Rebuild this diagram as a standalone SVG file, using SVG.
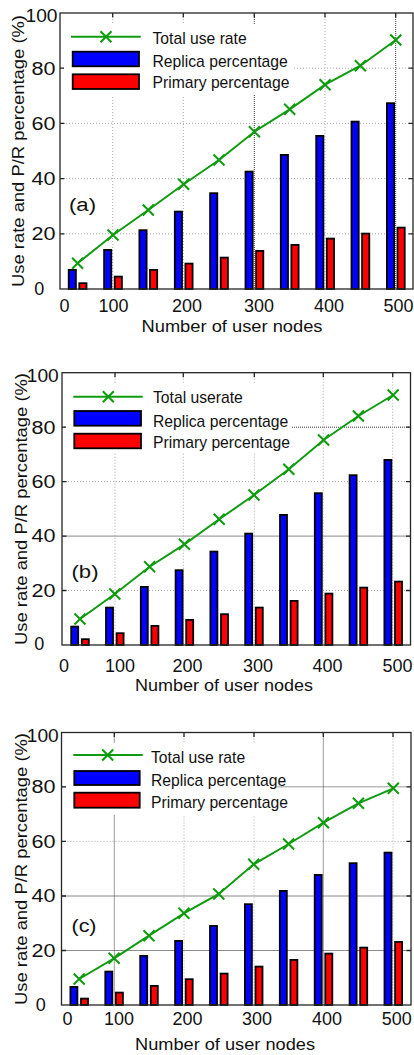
<svg xmlns="http://www.w3.org/2000/svg" xmlns:xlink="http://www.w3.org/1999/xlink" width="414" height="1055" viewBox="0 0 414 1055">
<style>
.ax{fill:none;stroke:#262626;stroke-width:1.3}
.gl{stroke:#a8a8a8;stroke-width:1;stroke-dasharray:1 2;fill:none}
.gd{stroke:#3a3a3a;stroke-width:1;stroke-dasharray:1 1;fill:none}
.gs{stroke:#8a8a8a;stroke-width:1;fill:none}
.bb{fill:#0000ff;stroke:#000;stroke-width:1.8}
.br{fill:#ff0000;stroke:#000;stroke-width:1.8}
.gr{fill:none;stroke:#0e9c0e;stroke-width:2}
.lg{fill:#fff;stroke:none}
.t{font-family:"Liberation Sans",Arial,sans-serif;fill:#111}
.tk{font-size:18px}
.yl{font-size:17px}
.xl{font-size:16px}
.le{font-size:15.7px}
.pl{font-size:18px}
</style>
<defs>
<path id="xm" class="gr" d="M-5.5,-5.5L5.5,5.5M-5.5,5.5L5.5,-5.5"/>
</defs>
<rect x="0" y="0" width="414" height="1055" fill="#fff"/>

<g id="panel-a">
<g id="grid-a">
<line class="gl" x1="60" y1="233.8" x2="413" y2="233.8"/>
<line class="gl" x1="60" y1="178.6" x2="413" y2="178.6"/>
<line class="gl" x1="60" y1="123.4" x2="413" y2="123.4"/>
<line class="gl" x1="60" y1="68.2" x2="413" y2="68.2"/>
<line class="gl" x1="112.7" y1="13" x2="112.7" y2="289"/>
<line class="gl" x1="183.3" y1="13" x2="183.3" y2="289"/>
<line class="gd" x1="254.3" y1="13" x2="254.3" y2="289"/>
<line class="gl" x1="325" y1="13" x2="325" y2="289"/>
<line class="gd" x1="395.7" y1="13" x2="395.7" y2="289"/>
</g>
<g id="bars-a">
<rect class="bb" x="68.7" y="269.9" width="7.2" height="19.1"/>
<rect class="bb" x="104.1" y="249.9" width="7.2" height="39.1"/>
<rect class="bb" x="139.4" y="230.2" width="7.2" height="58.8"/>
<rect class="bb" x="174.8" y="211.6" width="7.2" height="77.4"/>
<rect class="bb" x="210.1" y="193.2" width="7.2" height="95.8"/>
<rect class="bb" x="245.5" y="171.6" width="7.2" height="117.4"/>
<rect class="bb" x="280.8" y="154.9" width="7.2" height="134.1"/>
<rect class="bb" x="316.2" y="135.9" width="7.2" height="153.1"/>
<rect class="bb" x="351.5" y="121.6" width="7.2" height="167.4"/>
<rect class="bb" x="386.9" y="103.2" width="7.2" height="185.8"/>
<rect class="br" x="79.3" y="283.2" width="7.2" height="5.8"/>
<rect class="br" x="114.7" y="276.6" width="7.2" height="12.4"/>
<rect class="br" x="150" y="269.9" width="7.2" height="19.1"/>
<rect class="br" x="185.4" y="263.6" width="7.2" height="25.4"/>
<rect class="br" x="220.7" y="257.6" width="7.2" height="31.4"/>
<rect class="br" x="256.1" y="250.9" width="7.2" height="38.1"/>
<rect class="br" x="291.4" y="244.9" width="7.2" height="44.1"/>
<rect class="br" x="326.8" y="238.6" width="7.2" height="50.4"/>
<rect class="br" x="362.1" y="233.6" width="7.2" height="55.4"/>
<rect class="br" x="397.5" y="227.6" width="7.2" height="61.4"/>
</g>
<g id="line-a">
<polyline class="gr" points="77.6,263.3 113,235 148.3,210 183.7,184.3 219,160 254.4,131.7 289.7,109.3 325.1,84.7 360.4,65.7 395.8,40"/>
<use href="#xm" x="77.6" y="263.3"/><use href="#xm" x="113" y="235"/><use href="#xm" x="148.3" y="210"/><use href="#xm" x="183.7" y="184.3"/><use href="#xm" x="219" y="160"/><use href="#xm" x="254.4" y="131.7"/><use href="#xm" x="289.7" y="109.3"/><use href="#xm" x="325.1" y="84.7"/><use href="#xm" x="360.4" y="65.7"/><use href="#xm" x="395.8" y="40"/>
</g>
<g id="axes-a">
<rect class="ax" x="60" y="13" width="353" height="276"/>
<path class="ax" d="M60,233.8h4.5M60,178.6h4.5M60,123.4h4.5M60,68.2h4.5M413,233.8h-4.5M413,178.6h-4.5M413,123.4h-4.5M413,68.2h-4.5M112.7,13v4.5M183.3,13v4.5M254.3,13v4.5M325,13v4.5M395.7,13v4.5"/>
</g>
<g id="legend-a">
<rect class="lg" x="64" y="24" width="228" height="71"/>
<line class="gr" x1="71" y1="36.7" x2="140.7" y2="36.7"/>
<use href="#xm" x="106" y="36.7"/>
<rect class="bb" x="72.7" y="51.7" width="66.3" height="14.6"/>
<rect class="br" x="72.7" y="74.3" width="66.3" height="14.7"/>
<text class="t le" x="152.5" y="44">Total use rate</text>
<text class="t le" x="152.5" y="66.5">Replica percentage</text>
<text class="t le" x="152.5" y="88.3">Primary percentage</text>
</g>
<g id="labels-a">
<text class="t tk" x="57.5" y="21.5" text-anchor="end" textLength="32" lengthAdjust="spacingAndGlyphs">100</text>
<text class="t tk" x="55.5" y="74.5" text-anchor="end" textLength="24" lengthAdjust="spacingAndGlyphs">80</text>
<text class="t tk" x="55.5" y="129.7" text-anchor="end" textLength="24" lengthAdjust="spacingAndGlyphs">60</text>
<text class="t tk" x="55.5" y="184.9" text-anchor="end" textLength="24" lengthAdjust="spacingAndGlyphs">40</text>
<text class="t tk" x="55.5" y="240.1" text-anchor="end" textLength="24" lengthAdjust="spacingAndGlyphs">20</text>
<text class="t tk" x="39.2" y="294.5" text-anchor="middle">0</text>
<text class="t tk" x="64.5" y="311.7" text-anchor="middle">0</text>
<text class="t tk" x="113.5" y="311.7" text-anchor="middle" textLength="30" lengthAdjust="spacingAndGlyphs">100</text>
<text class="t tk" x="187" y="311.7" text-anchor="middle" textLength="30" lengthAdjust="spacingAndGlyphs">200</text>
<text class="t tk" x="259" y="311.7" text-anchor="middle" textLength="30" lengthAdjust="spacingAndGlyphs">300</text>
<text class="t tk" x="329" y="311.7" text-anchor="middle" textLength="30" lengthAdjust="spacingAndGlyphs">400</text>
<text class="t tk" x="398.5" y="311.7" text-anchor="middle" textLength="30" lengthAdjust="spacingAndGlyphs">500</text>
<text class="t xl" x="232" y="331.5" text-anchor="middle" textLength="181" lengthAdjust="spacingAndGlyphs">Number of user nodes</text>
<text class="t yl" transform="translate(24.3,151) rotate(-90)" text-anchor="middle" textLength="272" lengthAdjust="spacingAndGlyphs">Use rate and P/R percentage (%)</text>
<text class="t pl" x="69" y="211" textLength="27" lengthAdjust="spacingAndGlyphs">(a)</text>
</g>
</g>

<g id="panel-b">
<g id="grid-b">
<line class="gl" x1="62" y1="590.5" x2="410.5" y2="590.5"/>
<line class="gs" x1="62" y1="536.1" x2="410.5" y2="536.1"/>
<line class="gl" x1="62" y1="481.6" x2="410.5" y2="481.6"/>
<line class="gd" x1="62" y1="427.2" x2="410.5" y2="427.2"/>
<line class="gl" x1="115" y1="372.7" x2="115" y2="645"/>
<line class="gl" x1="183.3" y1="372.7" x2="183.3" y2="645"/>
<line class="gl" x1="254.3" y1="372.7" x2="254.3" y2="645"/>
<line class="gl" x1="323.3" y1="372.7" x2="323.3" y2="645"/>
<line class="gl" x1="392.7" y1="372.7" x2="392.7" y2="645"/>
</g>
<g id="bars-b">
<rect class="bb" x="71.2" y="626.6" width="7" height="18.4"/>
<rect class="bb" x="106" y="607.6" width="7" height="37.4"/>
<rect class="bb" x="140.8" y="586.9" width="7" height="58.1"/>
<rect class="bb" x="175.6" y="570.2" width="7" height="74.8"/>
<rect class="bb" x="210.4" y="551.6" width="7" height="93.4"/>
<rect class="bb" x="245.2" y="533.6" width="7" height="111.4"/>
<rect class="bb" x="280" y="514.9" width="7" height="130.1"/>
<rect class="bb" x="314.8" y="493.2" width="7" height="151.8"/>
<rect class="bb" x="349.6" y="475.2" width="7" height="169.8"/>
<rect class="bb" x="384.4" y="459.9" width="7" height="185.1"/>
<rect class="br" x="81.8" y="639.2" width="7" height="5.8"/>
<rect class="br" x="116.6" y="633.2" width="7" height="11.8"/>
<rect class="br" x="151.4" y="625.9" width="7" height="19.1"/>
<rect class="br" x="186.2" y="619.9" width="7" height="25.1"/>
<rect class="br" x="221" y="614.2" width="7" height="30.8"/>
<rect class="br" x="255.8" y="607.6" width="7" height="37.4"/>
<rect class="br" x="290.6" y="600.9" width="7" height="44.1"/>
<rect class="br" x="325.4" y="593.6" width="7" height="51.4"/>
<rect class="br" x="360.2" y="587.6" width="7" height="57.4"/>
<rect class="br" x="395" y="581.6" width="7" height="63.4"/>
</g>
<g id="line-b">
<polyline class="gr" points="80,619 114.8,594 149.6,566.7 184.4,544.3 219.2,519.3 254,495 288.8,469.3 323.6,440 358.4,416 393.2,395"/>
<use href="#xm" x="80" y="619"/><use href="#xm" x="114.8" y="594"/><use href="#xm" x="149.6" y="566.7"/><use href="#xm" x="184.4" y="544.3"/><use href="#xm" x="219.2" y="519.3"/><use href="#xm" x="254" y="495"/><use href="#xm" x="288.8" y="469.3"/><use href="#xm" x="323.6" y="440"/><use href="#xm" x="358.4" y="416"/><use href="#xm" x="393.2" y="395"/>
</g>
<g id="axes-b">
<rect class="ax" x="62" y="372.7" width="348.5" height="272.3"/>
<path class="ax" d="M62,590.5h4.5M62,536.1h4.5M62,481.6h4.5M62,427.2h4.5M410.5,590.5h-4.5M410.5,536.1h-4.5M410.5,481.6h-4.5M410.5,427.2h-4.5M115,372.7v4.5M183.3,372.7v4.5M254.3,372.7v4.5M323.3,372.7v4.5M392.7,372.7v4.5"/>
</g>
<g id="legend-b">
<rect class="lg" x="66" y="383" width="225" height="70"/>
<line class="gr" x1="73.3" y1="396.7" x2="142.7" y2="396.7"/>
<use href="#xm" x="108.3" y="396.7"/>
<rect class="bb" x="74.3" y="411" width="66.7" height="14.7"/>
<rect class="br" x="74.3" y="433.7" width="66.7" height="14.6"/>
<text class="t le" x="153" y="403.3">Total userate</text>
<text class="t le" x="153" y="426.5">Replica percentage</text>
<text class="t le" x="153" y="448.3">Primary percentage</text>
</g>
<g id="labels-b">
<text class="t tk" x="58.8" y="381.5" text-anchor="end" textLength="32" lengthAdjust="spacingAndGlyphs">100</text>
<text class="t tk" x="55.5" y="433.5" text-anchor="end" textLength="24" lengthAdjust="spacingAndGlyphs">80</text>
<text class="t tk" x="55.5" y="487.9" text-anchor="end" textLength="24" lengthAdjust="spacingAndGlyphs">60</text>
<text class="t tk" x="55.5" y="542.4" text-anchor="end" textLength="24" lengthAdjust="spacingAndGlyphs">40</text>
<text class="t tk" x="55.5" y="596.8" text-anchor="end" textLength="24" lengthAdjust="spacingAndGlyphs">20</text>
<text class="t tk" x="39.2" y="650.3" text-anchor="middle">0</text>
<text class="t tk" x="64" y="671.7" text-anchor="middle">0</text>
<text class="t tk" x="120" y="671.7" text-anchor="middle" textLength="30" lengthAdjust="spacingAndGlyphs">100</text>
<text class="t tk" x="187.5" y="671.7" text-anchor="middle" textLength="30" lengthAdjust="spacingAndGlyphs">200</text>
<text class="t tk" x="258" y="671.7" text-anchor="middle" textLength="30" lengthAdjust="spacingAndGlyphs">300</text>
<text class="t tk" x="327.5" y="671.7" text-anchor="middle" textLength="30" lengthAdjust="spacingAndGlyphs">400</text>
<text class="t tk" x="397.5" y="671.7" text-anchor="middle" textLength="30" lengthAdjust="spacingAndGlyphs">500</text>
<text class="t xl" x="224" y="690.7" text-anchor="middle" textLength="178" lengthAdjust="spacingAndGlyphs">Number of user nodes</text>
<text class="t yl" transform="translate(26.7,509) rotate(-90)" text-anchor="middle" textLength="272" lengthAdjust="spacingAndGlyphs">Use rate and P/R percentage (%)</text>
<text class="t pl" x="71.5" y="578" textLength="27" lengthAdjust="spacingAndGlyphs">(b)</text>
</g>
</g>

<g id="panel-c">
<g id="grid-c">
<line class="gs" x1="61.5" y1="950.5" x2="411" y2="950.5"/>
<line class="gs" x1="61.5" y1="896" x2="411" y2="896"/>
<line class="gl" x1="61.5" y1="841.4" x2="411" y2="841.4"/>
<line class="gd" x1="61.5" y1="786.8" x2="411" y2="786.8"/>
<line class="gd" x1="114.3" y1="732.5" x2="114.3" y2="1005"/>
<line class="gl" x1="184" y1="732.5" x2="184" y2="1005"/>
<line class="gl" x1="254" y1="732.5" x2="254" y2="1005"/>
<line class="gd" x1="323.3" y1="732.5" x2="323.3" y2="1005"/>
<line class="gl" x1="393" y1="732.5" x2="393" y2="1005"/>
</g>
<g id="bars-c">
<rect class="bb" x="70.4" y="986.9" width="7" height="18.1"/>
<rect class="bb" x="105.3" y="971.6" width="7" height="33.4"/>
<rect class="bb" x="140.2" y="955.9" width="7" height="49.1"/>
<rect class="bb" x="175.1" y="940.9" width="7" height="64.1"/>
<rect class="bb" x="210" y="925.9" width="7" height="79.1"/>
<rect class="bb" x="244.9" y="904.2" width="7" height="100.8"/>
<rect class="bb" x="279.8" y="890.9" width="7" height="114.1"/>
<rect class="bb" x="314.7" y="874.9" width="7" height="130.1"/>
<rect class="bb" x="349.6" y="863.2" width="7" height="141.8"/>
<rect class="bb" x="384.5" y="852.6" width="7" height="152.4"/>
<rect class="br" x="81" y="998.6" width="7" height="6.4"/>
<rect class="br" x="115.9" y="992.6" width="7" height="12.4"/>
<rect class="br" x="150.8" y="985.9" width="7" height="19.1"/>
<rect class="br" x="185.7" y="979.2" width="7" height="25.8"/>
<rect class="br" x="220.6" y="973.6" width="7" height="31.4"/>
<rect class="br" x="255.5" y="966.6" width="7" height="38.4"/>
<rect class="br" x="290.4" y="959.9" width="7" height="45.1"/>
<rect class="br" x="325.3" y="953.6" width="7" height="51.4"/>
<rect class="br" x="360.2" y="947.6" width="7" height="57.4"/>
<rect class="br" x="395.1" y="941.9" width="7" height="63.1"/>
</g>
<g id="line-c">
<polyline class="gr" points="79.2,979 114.1,958.3 149,935.7 183.9,913.3 218.8,894 253.7,864.3 288.6,844 323.5,822.7 358.4,803.3 393.3,788.3"/>
<use href="#xm" x="79.2" y="979"/><use href="#xm" x="114.1" y="958.3"/><use href="#xm" x="149" y="935.7"/><use href="#xm" x="183.9" y="913.3"/><use href="#xm" x="218.8" y="894"/><use href="#xm" x="253.7" y="864.3"/><use href="#xm" x="288.6" y="844"/><use href="#xm" x="323.5" y="822.7"/><use href="#xm" x="358.4" y="803.3"/><use href="#xm" x="393.3" y="788.3"/>
</g>
<g id="axes-c">
<rect class="ax" x="61.5" y="732.5" width="349.5" height="272.5"/>
<path class="ax" d="M61.5,950.5h4.5M61.5,896h4.5M61.5,841.4h4.5M61.5,786.8h4.5M411,950.5h-4.5M411,896h-4.5M411,841.4h-4.5M411,786.8h-4.5M114.3,732.5v4.5M184,732.5v4.5M254,732.5v4.5M323.3,732.5v4.5M393,732.5v4.5"/>
</g>
<g id="legend-c">
<rect class="lg" x="66" y="743" width="210" height="72"/>
<line class="gr" x1="73.3" y1="755" x2="142.7" y2="755"/>
<use href="#xm" x="107.7" y="755"/>
<rect class="bb" x="74.3" y="771" width="65.4" height="14"/>
<rect class="br" x="74.3" y="792.7" width="65.4" height="15"/>
<text class="t le" x="151" y="763.3">Total use rate</text>
<text class="t le" x="151" y="785.7">Replica percentage</text>
<text class="t le" x="151" y="808.3">Primary percentage</text>
</g>
<g id="labels-c">
<text class="t tk" x="58.8" y="741.5" text-anchor="end" textLength="32" lengthAdjust="spacingAndGlyphs">100</text>
<text class="t tk" x="55.5" y="793.1" text-anchor="end" textLength="24" lengthAdjust="spacingAndGlyphs">80</text>
<text class="t tk" x="55.5" y="847.7" text-anchor="end" textLength="24" lengthAdjust="spacingAndGlyphs">60</text>
<text class="t tk" x="55.5" y="902.3" text-anchor="end" textLength="24" lengthAdjust="spacingAndGlyphs">40</text>
<text class="t tk" x="55.5" y="956.8" text-anchor="end" textLength="24" lengthAdjust="spacingAndGlyphs">20</text>
<text class="t tk" x="40.8" y="1010.5" text-anchor="middle">0</text>
<text class="t tk" x="67.5" y="1025" text-anchor="middle">0</text>
<text class="t tk" x="119" y="1025" text-anchor="middle" textLength="30" lengthAdjust="spacingAndGlyphs">100</text>
<text class="t tk" x="187.5" y="1025" text-anchor="middle" textLength="30" lengthAdjust="spacingAndGlyphs">200</text>
<text class="t tk" x="257" y="1025" text-anchor="middle" textLength="30" lengthAdjust="spacingAndGlyphs">300</text>
<text class="t tk" x="327" y="1025" text-anchor="middle" textLength="30" lengthAdjust="spacingAndGlyphs">400</text>
<text class="t tk" x="396.7" y="1025" text-anchor="middle" textLength="30" lengthAdjust="spacingAndGlyphs">500</text>
<text class="t xl" x="225" y="1050" text-anchor="middle" textLength="180" lengthAdjust="spacingAndGlyphs">Number of user nodes</text>
<text class="t yl" transform="translate(27,869) rotate(-90)" text-anchor="middle" textLength="272" lengthAdjust="spacingAndGlyphs">Use rate and P/R percentage (%)</text>
<text class="t pl" x="71.5" y="931.5" textLength="25" lengthAdjust="spacingAndGlyphs">(c)</text>
</g>
</g>
</svg>
